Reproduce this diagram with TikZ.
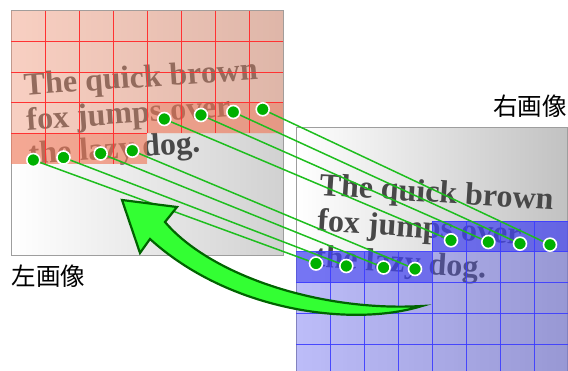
\documentclass[tikz,border=0pt]{standalone}
\usepackage{fontspec}
\setmainfont{Liberation Serif}
\newfontfamily\cjk{Noto Sans CJK JP}
\definecolor{redc}{RGB}{240,150,120}
\definecolor{redd}{RGB}{240,110,80}
\definecolor{redl}{RGB}{255,50,50}
\definecolor{bluec}{RGB}{90,90,240}
\definecolor{blued}{RGB}{60,60,240}
\definecolor{bluel}{RGB}{60,60,255}
\definecolor{txt}{RGB}{72,72,72}
\definecolor{conng}{RGB}{30,190,30}
\definecolor{dotg}{RGB}{0,176,0}
\definecolor{arrf}{RGB}{51,255,51}
\definecolor{arrd}{RGB}{0,100,0}
\tikzset{
  imgtext/.style={anchor=base west, inner sep=0, text=txt, font=\fontsize{32}{34}\selectfont\bfseries},
  imgframe/.style={draw=black!38, line width=1pt},
  conn/.style={draw=conng, line width=1.5pt},
  dotnode/.style={circle, fill=dotg, draw=white, line width=1.6pt, minimum size=13pt, inner sep=0pt},
  bigarrow/.style={fill=arrf, draw=arrd, line width=2.2pt, line join=miter},
  lab/.style={font=\cjk\fontsize{24.5}{24.5}\selectfont, text=black, inner sep=0},
  redgrid/.style={draw=redl, line width=0.9pt},
  bluegrid/.style={draw=bluel, draw opacity=0.9, line width=1pt}
}
\begin{document}
\begin{tikzpicture}[x=1pt,y=-1pt]
\useasboundingbox (0,0) rectangle (568,371);
\clip (0,0) rectangle (568,371);
% ---------- left image ----------
\shade[left color=white, right color=black!18] (11,11) rectangle (283,256);
\begin{scope}[shift={(24.5,95.5)}, rotate=4, transform shape]
  \node[imgtext] (lt1) at (0,0) {The quick brown};
  \node[imgtext] (lt2) at (0,35) {fox jumps over};
  \node[imgtext] (lt3) at (0,69) {the lazy dog.};
\end{scope}
\draw[imgframe] (11,11) rectangle (283,256);
\fill[redc, fill opacity=0.45] (11,11) -- (283,11) -- (283,133.4) -- (147,133.4) -- (147,164) -- (11,164) -- cycle;
\fill[redd, fill opacity=0.4] (147,102.8) rectangle (283,133.4);
\fill[redd, fill opacity=0.4] (11,133.4) rectangle (147,164);
\foreach \y in {41.6,72.2,102.8} \draw[redgrid] (11,\y) -- (283,\y);
\draw[redgrid] (11,133.4) -- (147,133.4);
\foreach \x in {45,79,113} \draw[redgrid] (\x,11) -- (\x,164);
\foreach \x in {147,181,215,249} \draw[redgrid] (\x,11) -- (\x,133.4);
% ---------- right image ----------
\shade[left color=white, right color=black!24] (296,128) rectangle (567,380);
\begin{scope}[shift={(319,195)}, rotate=-3.7, transform shape]
  \node[imgtext] (rt1) at (0,0) {The quick brown};
  \node[imgtext] (rt2) at (0,36) {fox jumps over};
  \node[imgtext] (rt3) at (0,72) {the lazy dog.};
\end{scope}
\draw[imgframe] (296,380) -- (296,128) -- (567,128) -- (567,380);
\fill[bluec, fill opacity=0.4] (432,221.3) -- (568,221.3) -- (568,380) -- (296,380) -- (296,252) -- (432,252) -- cycle;
\fill[blued, fill opacity=0.55] (432,221.3) rectangle (568,252);
\fill[blued, fill opacity=0.55] (296,252) rectangle (432,282.7);
\draw[bluegrid] (432,221.3) -- (568,221.3);
\foreach \y in {252,282.7,313.4,344.1} \draw[bluegrid] (296,\y) -- (568,\y);
\foreach \x in {330,364,398} \draw[bluegrid] (\x,252) -- (\x,380);
\foreach \x in {432,466,500,534} \draw[bluegrid] (\x,221.3) -- (\x,380);
% ---------- labels ----------
\node[lab] (rlab) at (530,106) {右画像};
\node[lab] (llab) at (48.5,276) {左画像};
% ---------- correspondences ----------
\coordinate (a1) at (33.3,160);
\coordinate (a2) at (63.5,157.5);
\coordinate (a3) at (100.7,153.5);
\coordinate (a4) at (132.3,150.7);
\coordinate (a5) at (164.3,119);
\coordinate (a6) at (201,115);
\coordinate (a7) at (233.3,112);
\coordinate (a8) at (262.7,109.3);
\coordinate (b1) at (316,263.5);
\coordinate (b2) at (346.3,266);
\coordinate (b3) at (383.6,267.5);
\coordinate (b4) at (415,269);
\coordinate (b5) at (451,240.3);
\coordinate (b6) at (488.3,242);
\coordinate (b7) at (520,243.7);
\coordinate (b8) at (550,244.7);
\foreach \i in {1,...,8} \draw[conn] (a\i) -- (b\i);
% ---------- big arrow ----------
\draw[bigarrow] (122,200) -- (177,207) -- (165,222)
  .. controls (210,275) and (320,312) .. (422,306)
  .. controls (350,328) and (228,310) .. (150,239)
  -- (140,253) -- cycle;
% ---------- dots ----------
\foreach \i in {1,...,8} {
  \node[dotnode] (da\i) at (a\i) {};
  \node[dotnode] (db\i) at (b\i) {};
}
\end{tikzpicture}
\end{document}
